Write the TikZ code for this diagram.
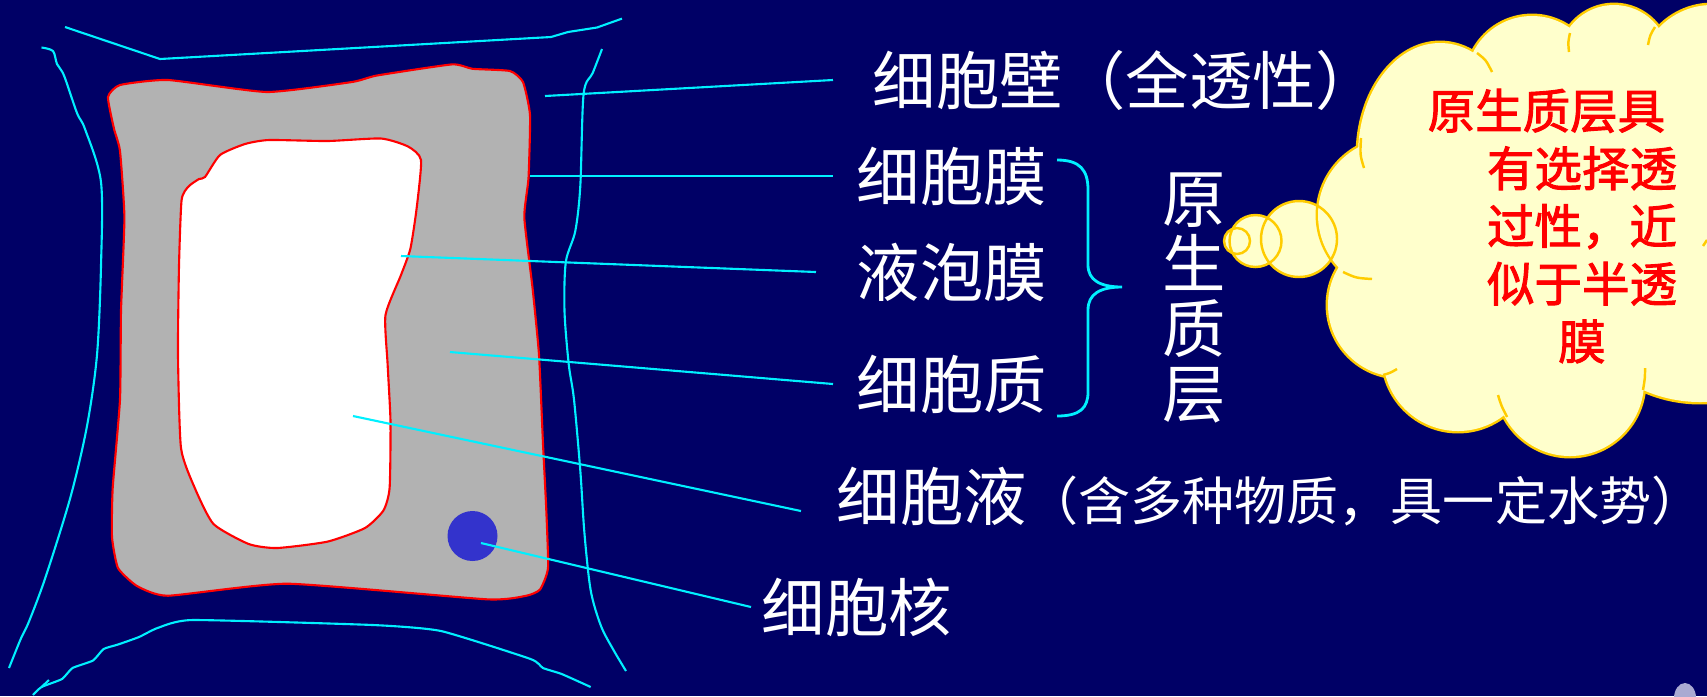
\documentclass[tikz,border=0pt]{standalone}
\usepackage{fontspec}
\newfontfamily\cjk{Noto Sans CJK SC}
\newfontfamily\cjkheavy[FakeBold=2]{Noto Sans CJK SC}

\definecolor{bgblue}{RGB}{0,0,102}
\definecolor{wallC}{RGB}{0,240,255}
\definecolor{cytoC}{RGB}{178,178,178}
\definecolor{nucC}{RGB}{51,51,204}
\definecolor{puffC}{RGB}{255,255,204}
\definecolor{puffLine}{RGB}{255,204,0}
\definecolor{dotC}{RGB}{170,170,210}

\begin{document}
\begin{tikzpicture}[x=0.01cm,y=-0.01cm,
    wallline/.style={draw=wallC,line width=0.6pt,line join=round},
    leader/.style={draw=wallC,line width=0.6pt},
    lbl/.style={anchor=west,text=white,inner sep=0pt,
      font=\cjk\fontsize{18}{20}\selectfont},
    puff/.style={draw=puffLine,line width=0.7pt}]

        \useasboundingbox (0,0) rectangle (1707,696);
        \fill[bgblue] (0,0) rectangle (1707,696);

        %------------------
        % 细胞壁
        %------------------

        \draw[wallline] (65,27) -- (160,59) -- (551,37) -- (568,32) -- (597,27.5) -- (622,18.6);
        \draw[wallline] plot[smooth,tension=0.5] coordinates {(41.5,47.5) (53,51) (57,64) (64,75.5) (77,113) (85,129) (101,182)
          (101,266) (97,355) (87,426) (70.5,497) (45.6,577) (29,621.5) (20.7,639) (9,668)};
        \draw[wallline] plot[smooth,tension=0.3] coordinates {(33,695) (41.5,687) (62,679) (72.5,668) (93,660.5) (103.6,649)
          (118,644.5) (139,637) (157.5,628) (192.7,620) (373,625) (441,631) (530.6,659) (543,668) (561.7,674) (590.7,687)};
        \draw[wallline] (41.5,687) -- (49,680);
        \draw[wallline] plot[smooth,tension=0.5] coordinates {(602,49) (592.7,73) (583.6,94) (580.3,186) (575.3,231) (565.8,262)
          (564.5,311) (568.7,364) (574,399.5) (580.3,470.5) (584.4,532.7) (590.7,590.4) (601,626) (613.5,650) (626,671)};

        %------------------
        % 原生质层、液泡、细胞核
        %------------------

        % 细胞质（细胞膜为外缘）
        \filldraw[fill=cytoC,draw=red,line width=0.6pt] plot[smooth cycle,tension=0.3] coordinates {(108,97) (120,85) (168,80)
          (267,92) (352,82) (377,75.5) (452,64.4) (472.5,68.8) (510,71) (523,82) (530,115) (528.5,178) (524.3,217.5)
          (532.6,288.5) (539,355) (543,444) (546.3,510.5) (548,568) (540,589.5) (526.4,595.7) (487,599.3) (288,583.7)
          (168,595.7) (137,586) (118,568) (112,537) (112.7,488) (120,399.5) (121,311) (124.4,217.5) (120,151) (114,128.7)};

        % 液泡
        \filldraw[fill=white,draw=red,line width=0.6pt] plot[smooth cycle,tension=0.35] coordinates {(205,177) (220,155)
          (245,144) (269,140) (327.5,141) (381,138.5) (408,146.5) (421,160) (416.6,208.6) (410.4,248.6) (401,275)
          (385.5,315) (387.6,364) (390.5,421.7) (389.6,488) (383.4,510.5) (365,528) (327.5,541.6) (277,548) (248.7,544)
          (213.5,524) (194.8,488) (181,448) (178,355) (179,266) (181.6,200) (188.6,186.4) (199,179)};

        % 细胞核
        \fill[nucC] (472.5,536) circle[radius=25];

        %------------------
        % 标注
        %------------------

        \coordinate (pWall) at (545,96);
        \coordinate (pMem) at (530,176);
        \coordinate (pTono) at (401,256);
        \coordinate (pCyto) at (450,352);
        \coordinate (pSap) at (353,416);
        \coordinate (pNuc) at (481,543);

        \node[lbl] (wall) at (872,80) {细胞壁（全透性）};
        \node[lbl] (mem) at (856,176) {细胞膜};
        \node[lbl] (tono) at (856,272) {液泡膜};
        \node[lbl] (cyto) at (856,384) {细胞质};
        \node[lbl] (sap) at (836,497)
          {细胞液{\fontsize{14.8}{18}\selectfont（含多种物质，具一定水势）}};
        \node[lbl] (nuc) at (761,607) {细胞核};

        \draw[leader] (pWall) -- ([xshift=-0.39cm]wall.west);
        \draw[leader] (pMem) -- ([xshift=-0.23cm]mem.west);
        \draw[leader] (pTono) -- ([xshift=-0.40cm]tono.west);
        \draw[leader] (pCyto) -- ([xshift=-0.23cm]cyto.west);
        \draw[leader] (pSap) -- ([xshift=-0.35cm,yshift=-0.14cm]sap.west);
        \draw[leader] (pNuc) -- ([xshift=-0.10cm]nuc.west);

        % 大括号
        \draw[leader,line width=0.8pt] (1057,160) .. controls (1080,160) and (1088,170) .. (1088,190)
          -- (1088,265) .. controls (1088,280) and (1100,287) .. (1122,287)
          .. controls (1100,287) and (1088,294) .. (1088,310)
          -- (1088,392) .. controls (1088,408) and (1080,416) .. (1057,416);

        \node[text=white,align=center,inner sep=0pt,font=\cjk\fontsize{18}{18.5}\selectfont] (layer)
          at (1194,298) {原\\生\\质\\层};

        %------------------
        % 云形说明框
        %------------------

        % 小泡
        \fill[puffC] (1237,241) circle[radius=13] (1255.5,241) circle[radius=26] (1299,239) circle[radius=38];

        % 云：先描边，再填充
        \foreach \cx/\cy/\r in {1532/82/66,1614/60/55,1712/78/73,1700/262/140,1570/382/74,1458/356/75,1400/305/72,1395/215/77}
          \draw[draw=puffLine,line width=1.4pt] (\cx,\cy) circle[radius=\r];
        \draw[draw=puffLine,line width=1.4pt] (1440,155) ellipse[x radius=82,y radius=112];
        \foreach \cx/\cy/\r in {1532/82/66,1614/60/55,1712/78/73,1700/262/140,1570/382/74,1458/356/75,1400/305/72,1395/215/77}
          \fill[puffC] (\cx,\cy) circle[radius=\r];
        \fill[puffC] (1440,155) ellipse[x radius=82,y radius=112];
        \fill[puffC] (1440,155) -- (1532,82) -- (1614,60) -- (1712,78) -- (1707,262) -- (1570,382)
          -- (1458,356) -- (1400,305) -- (1395,215) -- cycle;

        % 内侧短弧
        \draw[puff] (1361,138) .. controls (1360,155) .. (1364,168);
        \draw[puff] (1477,53) .. controls (1486,60) .. (1492,72);
        \draw[puff] (1570,33) .. controls (1568,42) .. (1569,52);
        \draw[puff] (1655,27) .. controls (1650,35) .. (1648,45);
        \draw[puff] (1343,272) .. controls (1356,278) .. (1372,279);
        \draw[puff] (1383,375) .. controls (1390,373) .. (1397,369);
        \draw[puff] (1507,417) .. controls (1501,405) .. (1498,395);
        \draw[puff] (1643,390) .. controls (1645,378) .. (1645,368);
        \draw[puff] (1707,240) -- (1703,246);

        \draw[puff] (1237,241) circle[radius=13] (1255.5,241) circle[radius=26] (1299,239) circle[radius=38];

        \node[text=red,align=center,inner sep=0pt,font=\cjkheavy\fontsize{13.5}{16.4}\selectfont] (note)
          at (1582,226) {原生质层具\hbox to 1.5em{}\\有选择透\\过性，近\\似于半透\\膜};

        % 右下角
        \fill[dotC] (1685,698) ellipse[x radius=11,y radius=15];
      \end{tikzpicture}
\end{document}
